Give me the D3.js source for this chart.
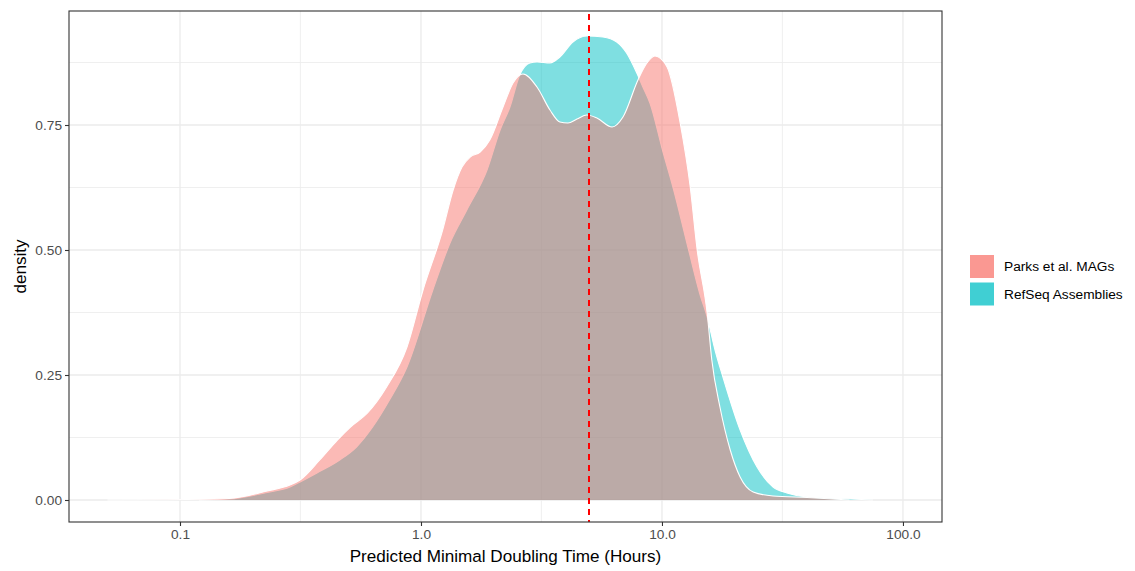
<!DOCTYPE html>
<html>
<head>
<meta charset="utf-8">
<script src="https://cdn.jsdelivr.net/npm/d3@7"></script>
<style>
  body { margin: 0; background: #fff; }
  text { font-family: "Liberation Sans", Arial, sans-serif; }
</style>
</head>
<body>
<svg id="chart" width="1135" height="571"></svg>
<script>
// density curves (x in hours, log scale)
const parksHours = [0.05, 0.09, 0.16, 0.23, 0.286, 0.315, 0.38, 0.45, 0.51, 0.60, 0.72, 0.875, 1.02, 1.23, 1.36, 1.48, 1.60, 1.76, 1.93, 2.19, 2.41, 2.65, 3.03, 3.43, 3.77, 4.07, 4.44, 4.88, 5.37, 6.21, 6.89, 7.95, 8.66, 9.35, 10.5, 11.9, 13.1, 14.0, 15.4, 16.1, 17.4, 19.2, 21.1, 23.9, 28.9, 40, 60]
const parksDensity = [0, 0.0005, 0.003, 0.018, 0.030, 0.040, 0.080, 0.120, 0.146, 0.174, 0.226, 0.306, 0.42, 0.54, 0.62, 0.666, 0.686, 0.696, 0.72, 0.786, 0.834, 0.852, 0.826, 0.78, 0.756, 0.754, 0.762, 0.77, 0.764, 0.746, 0.766, 0.84, 0.874, 0.888, 0.866, 0.754, 0.626, 0.50, 0.374, 0.28, 0.186, 0.10, 0.046, 0.016, 0.008, 0.005, 0]

const refseqHours = [0.12, 0.16, 0.23, 0.286, 0.315, 0.37, 0.46, 0.54, 0.63, 0.74, 0.875, 1.12, 1.32, 1.55, 1.88, 2.13, 2.34, 2.57, 2.83, 3.03, 3.43, 3.77, 4.27, 4.88, 5.69, 6.49, 7.13, 7.86, 8.33, 8.91, 10.1, 11.1, 12.9, 14.4, 15.4, 16.6, 17.9, 21.1, 24.8, 28.9, 33, 40, 55, 75]
const refseqDensity = [0, 0.002, 0.015, 0.026, 0.036, 0.054, 0.08, 0.106, 0.146, 0.20, 0.266, 0.42, 0.514, 0.58, 0.66, 0.74, 0.786, 0.85, 0.874, 0.876, 0.874, 0.886, 0.916, 0.928, 0.926, 0.916, 0.894, 0.854, 0.826, 0.794, 0.696, 0.626, 0.50, 0.41, 0.366, 0.30, 0.246, 0.14, 0.066, 0.026, 0.014, 0.006, 0.003, 0]

const seriesNames = ["Parks et al. MAGs", "RefSeq Assemblies"]
const seriesColors = ["#F8766D", "#00BFC4"]
const xTicks = [0.1, 1, 10, 100]
const xMinor = [0.316, 3.16, 31.6]
const yTicks = [0, 0.25, 0.5, 0.75]
const yMinor = [0.125, 0.375, 0.625, 0.875]
const cutoffHours = 5

const svg = d3.select("#chart")
const m = {left: 69, top: 11, right: 942, bottom: 522}

const x = d3.scaleLog()
    .domain([Math.pow(10, -1.4606), Math.pow(10, 2.162)])
    .range([m.left, m.right])
const y = d3.scaleLinear()
    .domain([-0.044, 0.978])
    .range([m.bottom, m.top])

// grid
const grid = svg.append("g")
grid.selectAll(".ymin").data(yMinor).join("line")
    .attr("x1", m.left).attr("x2", m.right)
    .attr("y1", d => y(d)).attr("y2", d => y(d))
    .attr("stroke", "#EBEBEB").attr("stroke-width", 0.8)
grid.selectAll(".xmin").data(xMinor).join("line")
    .attr("y1", m.top).attr("y2", m.bottom)
    .attr("x1", d => x(d)).attr("x2", d => x(d))
    .attr("stroke", "#EBEBEB").attr("stroke-width", 0.8)
grid.selectAll(".ymaj").data(yTicks).join("line")
    .attr("x1", m.left).attr("x2", m.right)
    .attr("y1", d => y(d)).attr("y2", d => y(d))
    .attr("stroke", "#EBEBEB").attr("stroke-width", 1.3)
grid.selectAll(".xmaj").data(xTicks).join("line")
    .attr("y1", m.top).attr("y2", m.bottom)
    .attr("x1", d => x(d)).attr("x2", d => x(d))
    .attr("stroke", "#EBEBEB").attr("stroke-width", 1.3)

// densities: RefSeq first, Parks on top
const series = [
  {hours: refseqHours, dens: refseqDensity, color: seriesColors[1]},
  {hours: parksHours, dens: parksDensity, color: seriesColors[0]}
]

const area = d3.area()
    .x(d => x(d[0]))
    .y0(y(0))
    .y1(d => y(d[1]))
    .curve(d3.curveMonotoneX)
const line = d3.line()
    .x(d => x(d[0]))
    .y(d => y(d[1]))
    .curve(d3.curveMonotoneX)

series.forEach(s => {
  const pts = s.hours.map((h, i) => [h, s.dens[i]])
  svg.append("path").datum(pts)
      .attr("d", area)
      .attr("fill", s.color).attr("fill-opacity", 0.5)
  svg.append("path").datum(pts)
      .attr("d", line)
      .attr("fill", "none").attr("stroke", "#fff").attr("stroke-width", 1.1)
})

// cutoff line
const cx = Math.round(x(cutoffHours))
svg.append("line")
    .attr("x1", cx).attr("x2", cx)
    .attr("y1", m.top + 3).attr("y2", m.bottom)
    .attr("stroke", "#FF0000").attr("stroke-width", 2)
    .attr("stroke-dasharray", "6,5")

// panel border
svg.append("rect")
    .attr("x", m.left).attr("y", m.top)
    .attr("width", m.right - m.left).attr("height", m.bottom - m.top)
    .attr("fill", "none").attr("stroke", "#333").attr("stroke-width", 1.1)

// axes
const xAxis = svg.append("g")
    .attr("transform", `translate(0,${m.bottom})`)
    .call(d3.axisBottom(x).tickValues(xTicks).tickFormat(d3.format(".1f")).tickSize(4).tickPadding(3))
const yAxis = svg.append("g")
    .attr("transform", `translate(${m.left},0)`)
    .call(d3.axisLeft(y).tickValues(yTicks).tickFormat(d3.format(".2f")).tickSize(4).tickPadding(3))
;[xAxis, yAxis].forEach(a => {
  a.select(".domain").remove()
  a.selectAll(".tick line").attr("stroke", "#333").attr("stroke-width", 1.1)
  a.selectAll(".tick text").attr("fill", "#4D4D4D")
      .style("font-size", "13.7px").style("font-family", "Liberation Sans, Arial, sans-serif")
})

svg.append("text")
    .attr("x", (m.left + m.right) / 2).attr("y", 562)
    .attr("text-anchor", "middle")
    .style("font-size", "17.1px")
    .text("Predicted Minimal Doubling Time (Hours)")
svg.append("text")
    .attr("transform", `translate(26,${(m.top + m.bottom) / 2}) rotate(-90)`)
    .attr("text-anchor", "middle")
    .style("font-size", "17.1px")
    .text("density")

// legend
const legend = svg.append("g").attr("transform", "translate(970,255)")
seriesNames.forEach((name, i) => {
  legend.append("rect")
      .attr("x", 0).attr("y", i * 27.5)
      .attr("width", 24).attr("height", 23)
      .attr("fill", seriesColors[i]).attr("fill-opacity", 0.75)
  legend.append("text")
      .attr("x", 34).attr("y", i * 27.5 + 11.5)
      .attr("dy", "0.35em")
      .style("font-size", "13.7px")
      .text(name)
})
</script>
</body>
</html>
